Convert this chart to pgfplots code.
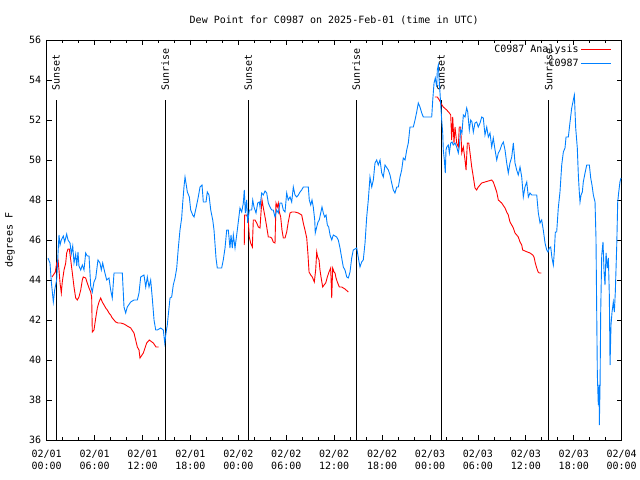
\documentclass[border=0pt]{standalone}
\usepackage{pgfplots}
\pgfplotsset{compat=1.18}
\usepackage{fontspec}
\setmainfont{DejaVu Sans Mono}
\definecolor{gpblue}{RGB}{0,128,255}
\definecolor{gpred}{RGB}{255,0,0}
\begin{document}
\begin{tikzpicture}[font=\fontsize{10bp}{12bp}\selectfont]
\useasboundingbox (-46.7bp,-40bp) rectangle (593.3bp,440bp);
\begin{axis}[
  at={(0,0)}, anchor=south west,
  scale only axis, width=575bp, height=400bp,
  xmin=0, xmax=72, ymin=36, ymax=56,
  xtick={0,6,...,72},
  minor x tick num=2,
  ytick={36,38,...,56},
  xticklabels={{02/01\\00:00},{02/01\\06:00},{02/01\\12:00},{02/01\\18:00},{02/02\\00:00},{02/02\\06:00},{02/02\\12:00},{02/02\\18:00},{02/03\\00:00},{02/03\\06:00},{02/03\\12:00},{02/03\\18:00},{02/04\\00:00}},
  xticklabel style={align=center, font=\fontsize{10bp}{12bp}\selectfont, yshift=-7bp},
  yticklabel style={font=\fontsize{10bp}{12bp}\selectfont, xshift=-2bp},
  /pgf/number format/assume math mode=true,
  tick align=inside,
  major tick length=5bp, minor tick length=3bp,
  tick style={black, line width=0.8bp},
  axis line style={line width=0.8bp},
  title={Dew Point for C0987 on 2025-Feb-01 (time in UTC)},
  title style={at={(axis description cs:0.5,1)}, anchor=center, yshift=14bp},
  ylabel={degrees F},
  ylabel style={at={(axis description cs:-0.064,0.5)}, anchor=center},
  legend style={draw=none, fill=none, at={(axis description cs:1,1)}, anchor=north east, xshift=-10bp, yshift=-3bp, inner sep=0pt, row sep=1bp, font=\fontsize{10bp}{12bp}\selectfont},
  legend cell align=right,
  legend plot pos=right,
  legend image code/.code={\draw[#1] (0bp,0bp) -- (30bp,0bp);},
]
% Sunrise / sunset markers
\addplot[black, line width=0.8bp, forget plot] coordinates {(1.17,36) (1.17,53)};
\addplot[black, line width=0.8bp, forget plot] coordinates {(14.84,36) (14.84,53)};
\addplot[black, line width=0.8bp, forget plot] coordinates {(25.25,36) (25.25,53)};
\addplot[black, line width=0.8bp, forget plot] coordinates {(38.76,36) (38.76,53)};
\addplot[black, line width=0.8bp, forget plot] coordinates {(49.38,36) (49.38,53)};
\addplot[black, line width=0.8bp, forget plot] coordinates {(62.84,36) (62.84,53)};
\node[rotate=90, anchor=west, inner sep=0pt, xshift=1bp] at (axis cs:1.17,53.4) {Sunset};
\node[rotate=90, anchor=west, inner sep=0pt, xshift=1bp] at (axis cs:14.84,53.4) {Sunrise};
\node[rotate=90, anchor=west, inner sep=0pt, xshift=1bp] at (axis cs:25.25,53.4) {Sunset};
\node[rotate=90, anchor=west, inner sep=0pt, xshift=1bp] at (axis cs:38.76,53.4) {Sunrise};
\node[rotate=90, anchor=west, inner sep=0pt, xshift=1bp] at (axis cs:49.38,53.4) {Sunset};
\node[rotate=90, anchor=west, inner sep=0pt, xshift=1bp] at (axis cs:62.84,53.4) {Sunrise};
% Analysis (red)
\addplot[gpred, line width=0.9bp] coordinates {
(0.66,44.15) (0.83,44.25) (1.08,44.4) (1.25,44.85) (1.42,45.0) (1.54,44.5) (1.67,43.85) (1.83,43.35) (1.95,43.9) (2.17,44.5) (2.38,44.85) (2.50,45.35) (2.67,45.55) (2.83,45.55) (3.01,45.0) (3.21,44.35) (3.42,43.65) (3.63,43.1) (3.83,43.0) (4.04,43.15) (4.26,43.5) (4.46,44.0) (4.58,44.15) (4.88,44.1) (5.08,43.85) (5.30,43.6) (5.51,43.4) (5.63,43.15) (5.71,41.4) (5.92,41.5) (6.14,42.1) (6.34,42.6) (6.55,42.9) (6.76,43.1) (6.96,42.9) (7.18,42.75) (7.39,42.6) (7.59,42.5) (7.80,42.35) (8.01,42.25) (8.21,42.1) (8.43,42.0) (8.64,41.9) (8.93,41.85) (9.27,41.85) (9.68,41.8) (10.09,41.7) (10.52,41.6) (10.93,41.35) (11.14,41.0) (11.35,40.65) (11.56,40.5) (11.68,40.1) (12.10,40.35) (12.52,40.85) (12.85,41.0) (13.35,40.85) (13.69,40.65) (14.02,40.65)
};
\addlegendentry{C0987 Analysis}
\addplot[gpred, line width=0.9bp, forget plot] coordinates {
(24.74,45.75) (24.78,47.25) (25.04,47.25) (25.24,47.0) (25.37,46.15) (25.54,45.85) (25.75,45.65) (25.87,47.0) (26.08,47.0) (26.30,46.85) (26.50,46.65) (26.71,46.6) (26.83,47.35) (26.96,48.0) (27.13,47.6) (27.34,47.15) (27.55,46.65) (27.75,46.15) (27.96,46.15) (28.17,46.1) (28.37,45.9) (28.59,45.85) (28.71,47.85) (28.88,47.65) (29.00,47.85) (29.13,47.4) (29.30,47.15) (29.46,46.5) (29.63,46.1) (29.84,46.1) (30.05,46.4) (30.25,46.9) (30.47,47.35) (30.68,47.4) (31.09,47.4) (31.51,47.35) (31.93,47.25) (32.13,46.85) (32.34,46.5) (32.56,46.1) (32.72,45.25) (32.85,44.4) (33.06,44.25) (33.26,44.15) (33.51,43.9) (33.68,44.5) (33.81,45.4) (33.93,45.15) (34.10,45.0) (34.22,44.5) (34.35,44.15) (34.56,43.65) (34.73,43.75) (34.94,43.85) (35.14,44.15) (35.35,44.4) (35.56,44.6) (35.69,43.1) (35.81,44.6) (35.98,44.4) (36.10,44.35) (36.23,44.1) (36.39,43.9) (36.64,43.65) (36.94,43.65) (37.35,43.55) (37.77,43.4)
};
\addplot[gpred, line width=0.9bp, forget plot] coordinates {
(48.62,53.15) (48.91,53.15) (49.16,53.0) (49.34,52.85) (49.66,52.65) (50.09,52.5) (50.42,52.35) (50.59,52.25) (50.71,51.0) (50.84,52.15) (51.00,50.85) (51.13,51.65) (51.34,50.85) (51.54,50.65) (51.66,51.65) (51.84,51.65) (51.97,50.35) (52.17,50.65) (52.38,50.0) (52.51,49.5) (52.67,50.85) (52.85,50.85) (53.01,50.35) (53.22,49.65) (53.42,49.15) (53.63,48.6) (53.84,48.5) (54.04,48.65) (54.26,48.75) (54.47,48.85) (54.88,48.9) (55.30,48.95) (55.72,49.0) (55.92,48.9) (56.14,48.65) (56.35,48.4) (56.55,48.0) (56.97,47.85) (57.39,47.6) (57.60,47.4) (57.80,47.25) (58.01,46.9) (58.23,46.75) (58.43,46.6) (58.64,46.35) (58.85,46.25) (59.05,46.15) (59.18,46.0) (59.27,45.9) (59.48,45.75) (59.60,45.5) (59.89,45.45) (60.18,45.4) (60.52,45.35) (60.86,45.25) (61.02,45.15) (61.18,44.85) (61.36,44.6) (61.53,44.4) (61.69,44.35) (61.94,44.35)
};
% Observations (blue)
\addplot[gpblue, line width=0.9bp] coordinates {
(0.16,45.1) (0.41,44.85) (0.58,43.9) (0.83,42.9) (1.00,43.5) (1.25,44.0) (1.42,45.35) (1.54,46.25) (1.67,45.75) (1.83,46.0) (2.08,46.2) (2.25,45.9) (2.50,46.3) (2.67,46.0) (2.92,45.85) (3.08,45.3) (3.26,45.7) (3.42,44.85) (3.63,45.3) (3.76,44.7) (3.92,45.4) (4.04,44.7) (4.26,44.5) (4.46,44.75) (4.67,44.5) (4.88,45.35) (5.08,45.2) (5.30,45.2) (5.51,43.7) (5.71,43.4) (5.92,43.9) (6.14,44.1) (6.42,45.0) (6.67,44.85) (6.84,44.5) (7.01,44.85) (7.26,44.4) (7.51,44.0) (7.80,44.1) (8.01,43.5) (8.21,43.1) (8.43,44.35) (9.47,44.35) (9.68,42.65) (9.89,42.35) (10.09,42.65) (10.52,42.9) (10.93,43.0) (11.35,43.0) (11.56,43.35) (11.77,44.15) (12.18,44.25) (12.40,43.65) (12.60,44.15) (12.81,43.65) (13.02,44.0) (13.22,43.1) (13.44,42.0) (13.65,41.5) (13.85,41.5) (14.28,41.6) (14.60,41.5) (14.78,40.85) (14.94,41.35) (15.10,41.75) (15.44,43.1) (15.65,43.15) (15.85,43.75) (16.07,44.1) (16.28,44.6) (16.48,45.6) (16.69,46.5) (16.90,47.1) (17.03,47.85) (17.19,48.65) (17.32,49.15) (17.44,48.85) (17.61,48.4) (17.86,48.15) (18.03,47.5) (18.28,47.25) (18.45,47.15) (18.70,47.6) (18.98,48.15) (19.20,48.65) (19.45,48.75) (19.61,47.9) (19.95,47.9) (20.11,48.4) (20.32,48.25) (20.54,47.5) (20.79,47.0) (20.95,46.5) (21.20,45.1) (21.36,44.6) (21.91,44.6) (22.11,45.0) (22.33,45.6) (22.54,46.5) (22.74,46.5) (22.95,45.6) (23.08,46.25) (23.24,45.6) (23.37,46.25) (23.58,45.6) (23.79,46.25) (23.99,46.9) (24.20,47.6) (24.42,47.4) (24.62,47.85) (24.74,48.5) (24.87,47.35) (25.04,48.0) (25.17,46.85) (25.37,47.5) (25.67,47.5) (25.80,48.0) (25.96,47.65) (26.21,47.35) (26.42,47.85) (26.62,47.9) (26.71,47.65) (26.92,48.35) (27.12,48.25) (27.34,48.45) (27.55,48.35) (27.75,47.85) (27.96,47.65) (28.17,47.5) (28.37,47.5) (28.59,47.15) (28.80,47.5) (29.00,47.35) (29.21,47.85) (29.43,47.85) (29.63,47.5) (29.84,47.4) (30.05,48.35) (30.25,48.0) (30.47,48.15) (30.68,47.9) (30.88,48.65) (31.09,48.25) (31.31,48.15) (31.51,48.25) (31.72,48.4) (31.93,48.5) (32.13,48.65) (32.76,48.65) (32.88,48.0) (33.06,47.75) (33.22,48.0) (33.38,47.65) (33.56,47.0) (33.63,46.35) (33.81,46.65) (33.97,46.9) (34.13,47.0) (34.31,47.35) (34.47,47.65) (34.64,47.35) (34.81,47.15) (34.98,47.25) (35.14,46.75) (35.31,46.65) (35.48,46.25) (35.69,46.0) (35.89,46.25) (36.31,46.15) (36.51,46.0) (36.73,45.6) (36.94,45.1) (37.14,44.65) (37.35,44.5) (37.57,44.15) (37.77,44.1) (37.98,44.4) (38.19,45.1) (38.39,45.5) (38.82,45.6) (39.07,45.0) (39.23,44.65) (39.44,44.9) (39.64,45.0) (39.86,45.85) (40.07,47.15) (40.27,48.0) (40.48,49.15) (40.70,48.65) (40.90,49.0) (41.11,49.85) (41.32,50.0) (41.52,49.75) (41.74,50.0) (41.95,49.35) (42.15,49.15) (42.36,49.75) (42.78,49.5) (42.99,49.25) (43.20,48.85) (43.40,48.5) (43.61,48.35) (43.83,48.65) (44.03,48.65) (44.24,49.15) (44.45,49.5) (44.65,50.1) (44.87,50.0) (45.08,50.5) (45.28,50.85) (45.49,51.65) (45.91,51.65) (46.12,52.0) (46.33,52.4) (46.53,52.85) (46.74,52.65) (46.96,52.35) (47.16,52.15) (48.21,52.15) (48.34,53.0) (48.50,53.85) (48.66,54.1) (48.84,53.65) (48.91,54.5) (49.04,54.75) (49.16,53.85) (49.25,53.35) (49.34,52.75) (49.46,52.0) (49.59,51.35) (49.66,50.5) (49.79,50.0) (49.91,49.35) (50.00,50.5) (50.09,50.65) (50.29,50.75) (50.42,50.35) (50.59,50.85) (50.76,50.9) (50.91,50.75) (51.13,50.85) (51.34,50.65) (51.54,50.35) (51.66,50.65) (51.84,51.5) (52.00,51.35) (52.17,52.25) (52.38,52.15) (52.59,52.6) (52.72,52.4) (52.92,51.5) (53.09,52.0) (53.25,51.9) (53.42,51.4) (53.63,51.85) (53.84,51.9) (54.04,51.65) (54.26,51.85) (54.47,52.15) (54.67,52.1) (54.88,51.25) (55.10,51.65) (55.30,51.15) (55.51,51.35) (55.72,50.65) (55.92,51.1) (56.14,50.5) (56.35,50.0) (56.55,50.35) (56.76,50.5) (56.97,50.75) (57.18,50.9) (57.39,50.5) (57.60,49.85) (57.80,49.35) (58.01,49.85) (58.23,50.15) (58.43,50.85) (58.64,49.85) (58.85,49.5) (59.05,49.25) (59.27,49.65) (59.48,49.15) (59.68,48.15) (59.89,48.65) (60.11,48.9) (60.31,48.15) (60.52,48.35) (60.73,48.25) (61.36,48.25) (61.56,47.35) (61.77,46.85) (61.98,47.0) (62.18,46.5) (62.40,45.85) (62.61,45.5) (62.77,45.4) (62.93,45.6) (63.11,45.65) (63.27,45.1) (63.44,44.75) (63.56,45.4) (63.69,46.4) (63.86,46.4) (64.06,47.6) (64.27,48.4) (64.49,49.75) (64.69,50.4) (64.90,50.6) (65.03,51.15) (65.32,51.15) (65.53,51.9) (65.74,52.6) (65.94,53.0) (66.07,53.25) (66.24,51.6) (66.44,50.6) (66.57,49.25) (66.69,48.4) (66.78,47.9) (66.91,48.25) (67.07,48.4) (67.19,48.9) (67.41,49.35) (67.62,49.75) (67.95,49.75) (68.12,49.1) (68.28,48.75) (68.45,48.25) (68.66,47.9) (68.78,46.1) (68.87,42.4) (68.95,39.25) (69.07,37.75) (69.16,38.75) (69.20,36.75) (69.29,38.75) (69.37,42.4) (69.50,45.25) (69.66,45.9) (69.79,44.4) (69.91,43.75) (70.04,45.35) (70.20,44.6) (70.33,45.1) (70.45,43.25) (70.54,39.75) (70.66,41.75) (70.79,42.4) (70.95,42.9) (71.08,42.4) (71.20,43.4) (71.38,45.75) (71.50,47.9) (71.63,48.4) (71.78,48.9) (71.91,49.1)
};
\addlegendentry{C0987}
\end{axis}
\end{tikzpicture}
\end{document}
